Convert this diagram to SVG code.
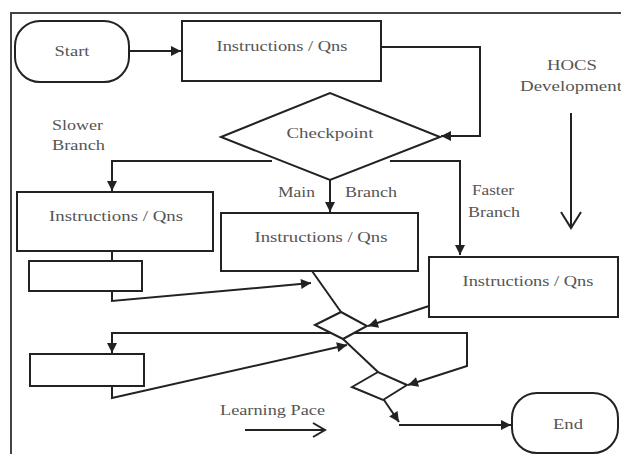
<svg xmlns="http://www.w3.org/2000/svg" width="621" height="454" viewBox="0 0 621 454">
<style>
.box{fill:#fff;stroke:#222;stroke-width:2}
.ln{fill:none;stroke:#222;stroke-width:2}
.t{font-family:'Liberation Serif','DejaVu Serif','Times New Roman',serif;font-size:15px;fill:#555}
.m{text-anchor:middle}
</style>
<defs>
<marker id="ah" viewBox="0 0 10 10" refX="10" refY="5" markerWidth="5.5" markerHeight="5" orient="auto" markerUnits="strokeWidth">
<path d="M0 0 L10 5 L0 10 Z" fill="#222"/>
</marker>
</defs>
<rect x="11" y="13" width="620" height="452" fill="#fff" stroke="#444" stroke-width="2"/>
<g id="connectors">
<path class="ln" d="M129 51 H181" marker-end="url(#ah)"/>
<path class="ln" d="M381 47 H480 V136 H441" marker-end="url(#ah)"/>
<path class="ln" d="M272 161 H112 V191" marker-end="url(#ah)"/>
<path class="ln" d="M330 180 V212" marker-end="url(#ah)"/>
<path class="ln" d="M390 161 H460 V255" marker-end="url(#ah)"/>
<path class="ln" d="M112 251 V261"/>
<path class="ln" d="M112 291 V301 L311 283" marker-end="url(#ah)"/>
<path class="ln" d="M312 271 L341 312"/>
<path class="ln" d="M429 306 L368 326" marker-end="url(#ah)"/>
<path class="ln" d="M343 339 L378 372"/>
<path class="ln" d="M112 386 V398 L347 345" marker-end="url(#ah)"/>
<path class="ln" d="M331 333 H112 V353" marker-end="url(#ah)"/>
<path class="ln" d="M331 333 H467 V366 L408 385" marker-end="url(#ah)"/>
<path class="ln" d="M384 400 L399 422" marker-end="url(#ah)"/>
<path class="ln" d="M399 425 H511" marker-end="url(#ah)"/>
<path class="ln" d="M571 113 V228 M561 212 L571 228 L581 212"/>
<path class="ln" d="M245 430 H325 M313 423 L325 430 L313 437"/>
</g>
<g id="start">
<rect class="box" x="15" y="21" width="114" height="61" rx="25"/>
<text class="t m" x="72" y="56" textLength="35" lengthAdjust="spacingAndGlyphs">Start</text>
</g>
<g id="instr1">
<rect class="box" x="182" y="21" width="199" height="60"/>
<text class="t m" x="282" y="51" textLength="131" lengthAdjust="spacingAndGlyphs">Instructions / Qns</text>
</g>
<g id="checkpoint">
<polygon class="box" points="221,137 330,93 440,137 330,180"/>
<text class="t m" x="330" y="138" textLength="87" lengthAdjust="spacingAndGlyphs">Checkpoint</text>
</g>
<g id="labels">
<text class="t" x="52" y="130" textLength="51" lengthAdjust="spacingAndGlyphs">Slower</text>
<text class="t" x="52" y="150" textLength="53" lengthAdjust="spacingAndGlyphs">Branch</text>
<text class="t" x="278" y="197" textLength="37" lengthAdjust="spacingAndGlyphs">Main</text>
<text class="t" x="345" y="197" textLength="52" lengthAdjust="spacingAndGlyphs">Branch</text>
<text class="t" x="472" y="195" textLength="42" lengthAdjust="spacingAndGlyphs">Faster</text>
<text class="t" x="468" y="217" textLength="52" lengthAdjust="spacingAndGlyphs">Branch</text>
<text class="t m" x="572" y="70" textLength="50" lengthAdjust="spacingAndGlyphs">HOCS</text>
<text class="t" x="520" y="91" textLength="102" lengthAdjust="spacingAndGlyphs">Development</text>
<text class="t" x="220" y="415" textLength="105" lengthAdjust="spacingAndGlyphs">Learning Pace</text>
</g>
<g id="instr2">
<rect class="box" x="17" y="192" width="196" height="59"/>
<text class="t m" x="116" y="221" textLength="134" lengthAdjust="spacingAndGlyphs">Instructions / Qns</text>
</g>
<g id="box1">
<rect class="box" x="29" y="261" width="113" height="30"/>
</g>
<g id="instr3">
<rect class="box" x="221" y="213" width="197" height="58"/>
<text class="t m" x="321" y="242" textLength="133" lengthAdjust="spacingAndGlyphs">Instructions / Qns</text>
</g>
<g id="instr4">
<rect class="box" x="429" y="257" width="189" height="60"/>
<text class="t m" x="528" y="286" textLength="131" lengthAdjust="spacingAndGlyphs">Instructions / Qns</text>
</g>
<g id="diamond1">
<polygon class="box" points="315,325 341,312 367,326 343,339"/>
</g>
<g id="box2">
<rect class="box" x="30" y="354" width="114" height="32"/>
</g>
<g id="diamond2">
<polygon class="box" points="352,387 378,372 407,385 383,400"/>
</g>
<g id="end">
<rect class="box" x="512" y="393" width="106" height="60" rx="25"/>
<text class="t m" x="568" y="429" textLength="30" lengthAdjust="spacingAndGlyphs">End</text>
</g>
</svg>
